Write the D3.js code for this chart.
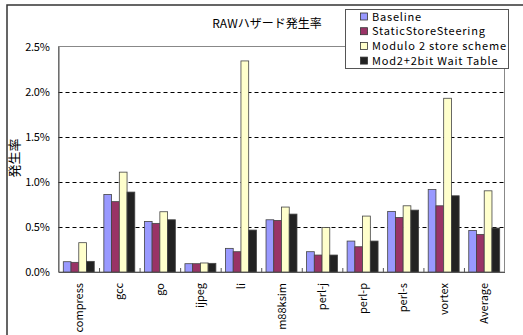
<!DOCTYPE html>
<html><head><meta charset="utf-8">
<script src="https://cdn.jsdelivr.net/npm/d3@7"></script>
<style>
body{margin:0;background:#fff;}
text{font-family:"Noto Sans CJK JP","DejaVu Sans",sans-serif;fill:#000;}
</style></head>
<body><svg id="c" width="523" height="335"></svg>
<script>
const categories = ["compress","gcc","go","ijpeg","li","m88ksim","perl-j","perl-p","perl-s","vortex","Average"];
const seriesNames = ["Baseline","StaticStoreSteering","Modulo 2 store scheme","Mod2+2bit Wait Table"];
const baseline = [0.114,0.86,0.561,0.092,0.262,0.579,0.225,0.343,0.672,0.915,0.461];
const staticSS = [0.107,0.78,0.539,0.092,0.225,0.572,0.188,0.28,0.605,0.734,0.417];
const modulo2  = [0.325,1.107,0.668,0.10,2.34,0.72,0.494,0.62,0.734,1.926,0.90];
const mod2wait = [0.118,0.886,0.579,0.096,0.465,0.642,0.188,0.343,0.686,0.845,0.487];
const yTicks = [0,0.5,1.0,1.5,2.0,2.5];
const colors = ["#9999FF","#993366","#FFFFCC","#222222"];
const allSeries = [baseline,staticSS,modulo2,mod2wait];

const svg = d3.select("#c");
const L=58.5, R=504.5, T=46.5, B=272;

// outer frame
svg.append("rect").attr("x",7).attr("y",5).attr("width",530).attr("height",340)
  .attr("fill","none").attr("stroke","#333").attr("stroke-width",1.5);

const x0 = d3.scaleBand().domain(categories).range([L,R]).padding(0);
const x1 = d3.scaleBand().domain(seriesNames).range([0,x0.bandwidth()]).paddingInner(0).paddingOuter(0.62);
const y = d3.scaleLinear().domain([0,2.5]).range([B,T]);

// plot area frame
svg.append("rect").attr("x",L).attr("y",T).attr("width",R-L).attr("height",B-T)
  .attr("fill","#fff").attr("stroke","#888").attr("stroke-width",1);

// gridlines
svg.append("g").selectAll("line").data(yTicks.filter(t=>t>0&&t<2.5)).join("line")
  .attr("x1",L).attr("x2",R).attr("y1",d=>Math.round(y(d))+0.5).attr("y2",d=>Math.round(y(d))+0.5)
  .attr("stroke","#000").attr("stroke-width",1).attr("stroke-dasharray","4,3");

// y axis
const yAxis = d3.axisLeft(y).tickValues(yTicks).tickSize(0).tickPadding(9).tickFormat(d=>d3.format(".1f")(d)+"%");
const ga = svg.append("g").attr("transform",`translate(${L},0)`).call(yAxis);
ga.select(".domain").attr("stroke","#555");
ga.selectAll("text").attr("font-size",11).attr("font-family","Noto Sans CJK JP").style("letter-spacing","-0.3px");

// bars
const g = svg.append("g");
allSeries.forEach((vals,si)=>{
  g.append("g").selectAll("rect").data(vals).join("rect")
    .attr("x",(d,i)=>x0(categories[i])+x1(seriesNames[si]))
    .attr("y",d=>y(d))
    .attr("width",x1.bandwidth())
    .attr("height",d=>B-y(d))
    .attr("fill",colors[si]).attr("stroke","#444").attr("stroke-width",0.8);
});

// x axis
const xAxis = d3.axisBottom(x0).tickSize(0).tickPadding(0);
const gx = svg.append("g").attr("transform",`translate(0,${B})`).call(xAxis);
gx.select(".domain").attr("stroke","#555");
gx.selectAll("text").attr("font-size",11).attr("text-anchor","end")
  .attr("transform","translate(4,11) rotate(-90)").attr("dy",0).attr("x",0).attr("y",0);
// inner ticks at category boundaries
svg.append("g").selectAll("line").data(categories.slice(1)).join("line")
  .attr("x1",d=>x0(d)+0.5).attr("x2",d=>x0(d)+0.5).attr("y1",B).attr("y2",B-4)
  .attr("stroke","#555");

// title
svg.append("text").attr("x",267).attr("y",28).attr("text-anchor","middle").attr("font-size",12).text("RAWハザード発生率");
// y label
svg.append("text").attr("transform","translate(19,158) rotate(-90)").attr("text-anchor","middle").attr("font-size",13).text("発生率");

// legend
const lg = svg.append("g");
lg.append("rect").attr("x",345.5).attr("y",9.5).attr("width",163).attr("height",59).attr("fill","#fff").attr("stroke","#555");
seriesNames.forEach((n,i)=>{
  const yy = 16.5 + i*14.7;
  lg.append("rect").attr("x",360.5).attr("y",yy-3.5).attr("width",7).attr("height",7).attr("fill",colors[i]).attr("stroke","#333").attr("stroke-width",0.8);
  lg.append("text").attr("x",372).attr("y",yy+4).attr("font-size",11).style("letter-spacing","0.8px").text(n);
});
</script></body></html>
